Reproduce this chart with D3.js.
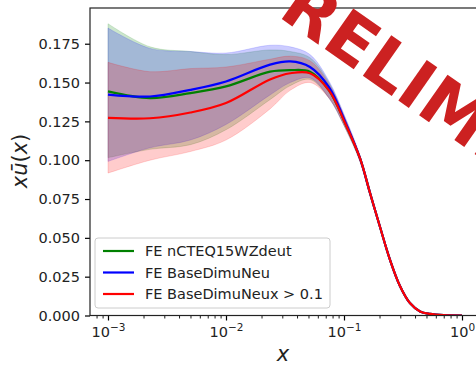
<!DOCTYPE html>
<html>
<head>
<meta charset="utf-8">
<script src="https://cdn.jsdelivr.net/npm/d3@7"></script>
<style>
  html, body { margin: 0; padding: 0; background: #fff; }
  svg { display: block; font-family: "DejaVu Sans", sans-serif; }
</style>
</head>
<body>
<div id="chart"></div>
<script>
// x grid (momentum fraction)
const xValues = [0.001, 0.00227, 0.005, 0.01, 0.0236, 0.035, 0.0515, 0.0746, 0.102, 0.137, 0.166, 0.202, 0.245, 0.298, 0.362, 0.441, 0.535, 0.7, 1.0];

// central values
const greenMid = [0.1443, 0.1400, 0.1432, 0.1475, 0.1570, 0.1580, 0.1570, 0.1450, 0.1240, 0.1010, 0.0790, 0.0570, 0.0360, 0.0190, 0.0080, 0.0026, 0.0010, 0.0002, 0];
const blueMid = [0.1422, 0.1410, 0.1453, 0.1507, 0.1615, 0.1636, 0.1600, 0.1470, 0.1250, 0.1010, 0.0790, 0.0570, 0.0360, 0.0190, 0.0080, 0.0026, 0.0010, 0.0002, 0];
const redMid = [0.1273, 0.1270, 0.1307, 0.1368, 0.1520, 0.1560, 0.1560, 0.1450, 0.1240, 0.1010, 0.0790, 0.0570, 0.0360, 0.0190, 0.0080, 0.0026, 0.0010, 0.0002, 0];

// uncertainty bands
const greenUp = [0.1879, 0.1730, 0.1700, 0.1680, 0.1710, 0.1700, 0.1660, 0.1500, 0.1270, 0.1020, 0.0800, 0.0580, 0.0370, 0.0195, 0.0083, 0.0028, 0.0011, 0.0002, 0];
const greenLo = [0.1016, 0.1070, 0.1100, 0.1196, 0.1390, 0.1480, 0.1520, 0.1400, 0.1210, 0.0990, 0.0770, 0.0560, 0.0350, 0.0185, 0.0077, 0.0024, 0.0009, 0.0002, 0];
const blueUp = [0.1851, 0.1720, 0.1700, 0.1690, 0.1740, 0.1730, 0.1680, 0.1510, 0.1280, 0.1030, 0.0810, 0.0580, 0.0370, 0.0195, 0.0083, 0.0028, 0.0011, 0.0002, 0];
const blueLo = [0.0992, 0.1080, 0.1130, 0.1230, 0.1420, 0.1500, 0.1530, 0.1400, 0.1210, 0.0990, 0.0770, 0.0560, 0.0350, 0.0185, 0.0077, 0.0024, 0.0009, 0.0002, 0];
const redUp = [0.1630, 0.1570, 0.1590, 0.1600, 0.1650, 0.1670, 0.1640, 0.1490, 0.1270, 0.1020, 0.0800, 0.0580, 0.0370, 0.0195, 0.0083, 0.0028, 0.0011, 0.0002, 0];
const redLo = [0.0917, 0.1000, 0.1056, 0.1130, 0.1330, 0.1450, 0.1500, 0.1400, 0.1210, 0.0990, 0.0770, 0.0560, 0.0350, 0.0185, 0.0077, 0.0024, 0.0009, 0.0002, 0];

const seriesNames = ['FE nCTEQ15WZdeut', 'FE BaseDimuNeu', 'FE BaseDimuNeux > 0.1'];
const seriesColors = ['#008000', '#0000ff', '#ff0000'];
const yTicks = [0, 0.025, 0.05, 0.075, 0.1, 0.125, 0.15, 0.175];
const xTicks = [1e-3, 1e-2, 1e-1, 1];
const xTickExp = ['\u22123', '\u22122', '\u22121', '0'];

const width = 476;
const height = 366;
const marginLeft = 90;
const marginTop = 8;
const plotRight = 480;
const plotBottom = 315.5;

const series = [
  { mid: greenMid, lo: greenLo, up: greenUp },
  { mid: blueMid, lo: blueLo, up: blueUp },
  { mid: redMid, lo: redLo, up: redUp },
];

const xScale = d3.scaleLog().domain([Math.pow(10, -3.1525), Math.pow(10, 0.1525)]).range([marginLeft, plotRight]);
const yScale = d3.scaleLinear().domain([0, 0.198]).range([plotBottom, marginTop]);
const curve = d3.curveCatmullRom.alpha(0.5);

const svg = d3.select('#chart').append('svg')
  .attr('width', width)
  .attr('height', height);

svg.append('defs').append('clipPath').attr('id', 'plot-clip')
  .append('rect')
  .attr('x', marginLeft).attr('y', marginTop)
  .attr('width', plotRight - marginLeft).attr('height', plotBottom - marginTop);

const plot = svg.append('g').attr('clip-path', 'url(#plot-clip)');

// bands
series.forEach((s, k) => {
  const area = d3.area()
    .x((_, i) => xScale(xValues[i]))
    .y0((_, i) => yScale(s.lo[i]))
    .y1((_, i) => yScale(s.up[i]))
    .curve(curve);
  plot.append('path')
    .attr('d', area(xValues))
    .attr('fill', seriesColors[k])
    .attr('fill-opacity', 0.2)
    .attr('stroke', seriesColors[k])
    .attr('stroke-opacity', 0.15)
    .attr('stroke-width', 1);
});

// central lines
series.forEach((s, k) => {
  const line = d3.line()
    .x((_, i) => xScale(xValues[i]))
    .y((_, i) => yScale(s.mid[i]))
    .curve(curve);
  plot.append('path')
    .attr('d', line(xValues))
    .attr('fill', 'none')
    .attr('stroke', seriesColors[k])
    .attr('stroke-width', 2.2);
});

// y axis
const yAxis = d3.axisLeft(yScale)
  .tickValues(yTicks)
  .tickFormat(d3.format('.3f'))
  .tickSize(5)
  .tickSizeOuter(0)
  .tickPadding(5);
const gY = svg.append('g')
  .attr('transform', `translate(${marginLeft},0)`)
  .call(yAxis);
gY.select('.domain').remove();
gY.selectAll('.tick line').attr('stroke', '#000').attr('stroke-width', 1.2);
gY.selectAll('.tick text').attr('font-size', 14.5).attr('fill', '#222').attr('font-family', 'DejaVu Sans');

// x axis (major + minor ticks)
const minorTicks = [];
for (let e = -4; e <= 0; e++) {
  for (let m = 2; m <= 9; m++) minorTicks.push(m * Math.pow(10, e));
}
const xAxisMinor = d3.axisBottom(xScale)
  .tickValues(minorTicks.filter(v => xScale(v) >= marginLeft && xScale(v) <= plotRight))
  .tickFormat('')
  .tickSize(3)
  .tickSizeOuter(0);
const gXm = svg.append('g')
  .attr('transform', `translate(0,${plotBottom})`)
  .call(xAxisMinor);
gXm.select('.domain').remove();
gXm.selectAll('.tick line').attr('stroke', '#000').attr('stroke-width', 0.9);

const xAxis = d3.axisBottom(xScale)
  .tickValues(xTicks)
  .tickFormat('')
  .tickSize(5)
  .tickSizeOuter(0);
const gX = svg.append('g')
  .attr('transform', `translate(0,${plotBottom})`)
  .call(xAxis);
gX.select('.domain').remove();
gX.selectAll('.tick line').attr('stroke', '#000').attr('stroke-width', 1.2);
gX.selectAll('.tick').each(function (d, i) {
  const t = d3.select(this).append('text')
    .attr('y', 21)
    .attr('text-anchor', 'middle')
    .attr('fill', '#222')
    .attr('font-size', 14.5)
    .attr('font-family', 'DejaVu Sans');
  t.append('tspan').text('10');
  t.append('tspan').attr('dy', -6).attr('font-size', 10.5).text(xTickExp[i]);
});

// spines
svg.append('rect')
  .attr('x', marginLeft).attr('y', marginTop)
  .attr('width', plotRight - marginLeft).attr('height', plotBottom - marginTop)
  .attr('fill', 'none')
  .attr('stroke', '#222')
  .attr('stroke-width', 1.2);

// axis labels
svg.append('text')
  .attr('x', 283).attr('y', 361)
  .attr('text-anchor', 'middle')
  .attr('font-size', 21)
  .attr('font-style', 'italic')
  .attr('fill', '#222')
  .text('x');

const yl = svg.append('text')
  .attr('transform', 'translate(27,161) rotate(-90)')
  .attr('text-anchor', 'middle')
  .attr('font-size', 21)
  .attr('fill', '#222');
yl.append('tspan').attr('font-style', 'italic').text('x\u016B');
yl.append('tspan').text('(');
yl.append('tspan').attr('font-style', 'italic').text('x');
yl.append('tspan').text(')');

// legend
const legend = svg.append('g');
legend.append('rect')
  .attr('x', 95).attr('y', 238)
  .attr('width', 235).attr('height', 70)
  .attr('rx', 3)
  .attr('fill', '#fff').attr('fill-opacity', 0.8)
  .attr('stroke', '#ccc').attr('stroke-width', 1);
seriesNames.forEach((name, k) => {
  const yy = 251 + k * 21.5;
  legend.append('line')
    .attr('x1', 103).attr('x2', 134)
    .attr('y1', yy).attr('y2', yy)
    .attr('stroke', seriesColors[k]).attr('stroke-width', 2.2);
  legend.append('text')
    .attr('x', 145).attr('y', yy + 5)
    .attr('font-size', 14.5)
    .attr('fill', '#222')
    .text(name);
});

// watermark
svg.append('text')
  .attr('transform', 'translate(236,-13) rotate(35)')
  .attr('font-size', 68)
  .attr('font-weight', 'bold')
  .attr('fill', '#cc2121')
  .text('PRELIMINARY');
</script>
</body>
</html>
